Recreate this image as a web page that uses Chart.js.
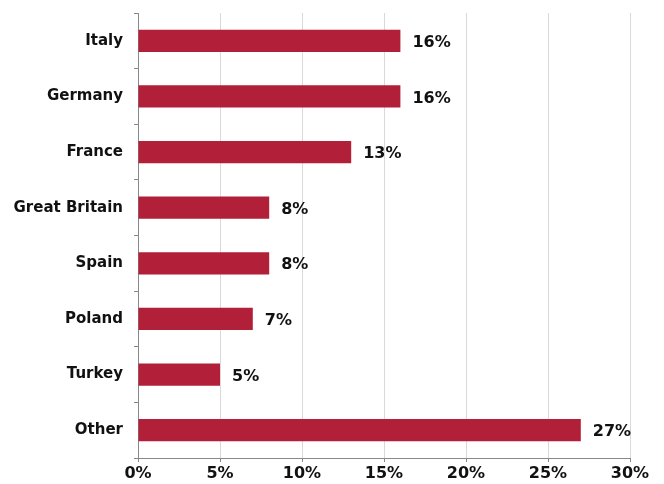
<!DOCTYPE html>
<html>
<head>
<meta charset="utf-8">
<script src="https://cdn.jsdelivr.net/npm/chart.js@4"></script>
<style>
  html, body { margin: 0; padding: 0; background: #fff; }
  #wrap { width: 664px; height: 484px; }
</style>
</head>
<body>
<div id="wrap"><canvas id="myChart"></canvas></div>
<script>
// Countries on the y-axis
var countries = ["Italy", "Germany", "France", "Great Britain", "Spain", "Poland", "Turkey", "Other"];
// Share in percent
var shares = [16, 16, 13, 8, 8, 7, 5, 27];
// x-axis range
var xMax = 30;
var xStep = 5;

var fontFamily = "'DejaVu Sans', Verdana, sans-serif";

// writes the value next to the end of each bar
var valueLabels = {
  id: 'valueLabels',
  afterDatasetsDraw: function(chart) {
    var ctx = chart.ctx;
    var meta = chart.getDatasetMeta(0);
    ctx.save();
    ctx.font = "bold 16px " + fontFamily;
    ctx.fillStyle = "#111";
    ctx.textAlign = "left";
    ctx.textBaseline = "middle";
    meta.data.forEach(function(bar, i) {
      ctx.fillText(shares[i] + "%", bar.x + 12, bar.y + 2);
    });
    ctx.restore();
  }
};

var ctx = document.getElementById("myChart");
var myChart = new Chart(ctx, {
  type: 'bar',
  data: {
    labels: countries,
    datasets: [{
      data: shares,
      backgroundColor: "#B21F39",
      borderWidth: 0,
      barPercentage: 0.4,
      categoryPercentage: 1.0
    }]
  },
  options: {
    indexAxis: 'y',
    responsive: true,
    maintainAspectRatio: false,
    animation: false,
    layout: { padding: { top: 13, right: 34, left: 0, bottom: 0 } },
    plugins: {
      legend: { display: false },
      tooltip: { enabled: false }
    },
    scales: {
      x: {
        min: 0,
        max: xMax,
        afterFit: function(scale) { scale.height = 26; },
        ticks: {
          stepSize: xStep,
          color: "#111",
          font: { family: fontFamily, size: 16, weight: 'bold' },
          padding: 2,
          callback: function(v) { return v + "%"; }
        },
        grid: {
          color: "#d9d9d9",
          tickColor: "#888",
          tickLength: 4,
          drawOnChartArea: true
        },
        border: { color: "#888" }
      },
      y: {
        afterFit: function(scale) {
          scale.width = 138;
          scale.paddingTop = 0;
          scale.paddingBottom = 0;
        },
        ticks: {
          color: "#111",
          font: { family: fontFamily, size: 15, weight: 'bold' },
          padding: 11
        },
        grid: {
          offset: true,
          drawOnChartArea: false,
          tickColor: "#888",
          tickLength: 4
        },
        border: { color: "#888" }
      }
    }
  },
  plugins: [valueLabels]
});
</script>
</body>
</html>
